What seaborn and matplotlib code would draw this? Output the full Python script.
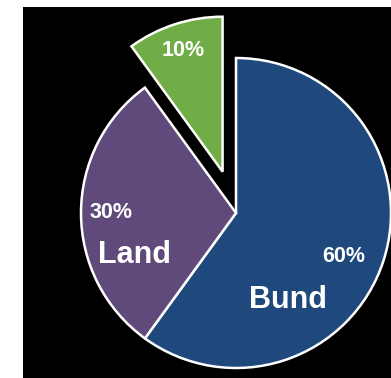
import matplotlib
matplotlib.use("Agg")
import matplotlib.pyplot as plt
import seaborn as sns

sns.set_theme(style="white")
plt.rcParams['font.family'] = ['Liberation Sans', 'DejaVu Sans']

categories = ["Bund", "Land", ""]
values = [60, 30, 10]
pct_labels = ["60%", "30%", "10%"]
colors = ["#1F497D", "#604A7B", "#70AD47"]
explode_frac = [0, 0, 0.28]

fig = plt.figure(figsize=(3.91, 3.78), dpi=100)
fig.patch.set_facecolor("white")
ax = fig.add_axes([23/391, 0, 368/391, 371/378])
ax.set_facecolor("black")

cx, cy, r = 213, 165, 155
ax.pie(values, colors=colors, startangle=90, counterclock=False,
       explode=[e * r for e in explode_frac], center=(cx, cy), radius=r,
       wedgeprops=dict(edgecolor="white", linewidth=1.8), frame=True)
ax.set_xlim(0, 368)
ax.set_ylim(0, 371)
ax.set_aspect("equal")
ax.set_xticks([])
ax.set_yticks([])
for s in ax.spines.values():
    s.set_visible(False)

tk = dict(color="white", fontweight="bold", ha="center", va="center")
ax.text(321, 122, pct_labels[0], fontsize=15.5, **tk)
ax.text(265, 78, categories[0], fontsize=22, **tk)
ax.text(88, 165, pct_labels[1], fontsize=15.5, **tk)
ax.text(111, 123, categories[1], fontsize=22, **tk)
ax.text(160, 327, pct_labels[2], fontsize=15.5, **tk)

fig.savefig("out.png", dpi=100, facecolor=fig.get_facecolor())
